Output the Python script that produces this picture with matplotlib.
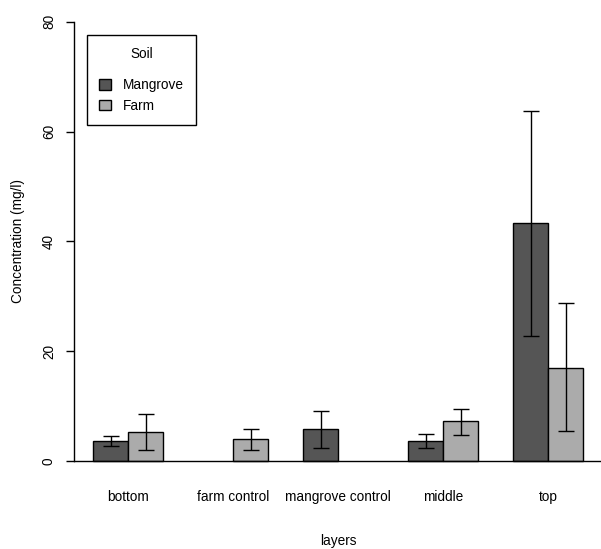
import numpy as np
import matplotlib
matplotlib.use('Agg')
import matplotlib.pyplot as plt
from matplotlib.patches import Patch

layers = ['bottom', 'farm control', 'mangrove control', 'middle', 'top']
soils = ['Mangrove', 'Farm']

# means and error bar ends (lower, upper), NaN = no bar
mangrove = [3.7, np.nan, 5.9, 3.7, 43.3]
farm = [5.2, 4.0, np.nan, 7.2, 17.0]
mangrove_lo = [2.7, np.nan, 2.4, 2.4, 22.7]
mangrove_hi = [4.6, np.nan, 9.2, 5.0, 63.8]
farm_lo = [2.0, 2.0, np.nan, 4.8, 5.4]
farm_hi = [8.6, 5.8, np.nan, 9.4, 28.7]

colors = ['#555555', '#ababab']
yticks = [0, 20, 40, 60, 80]

plt.rcParams['font.family'] = ['Liberation Sans', 'DejaVu Sans']
fs = 9.8

W, H = 601, 549
fig = plt.figure(figsize=(W / 100, H / 100), dpi=100)

# plot region in pixels (R style layout)
left, right = 73.7, 603.0
top, bottom = 4.2, 478.6
ax = fig.add_axes([left / W, 1 - bottom / H, (right - left) / W, (bottom - top) / H])

# R barplot geometry: groups of 2 bars, gap of 1 bar width before each group
groups = np.arange(len(layers))
x_m = 1.5 + 3 * groups
x_f = 2.5 + 3 * groups
x_lab = 2.0 + 3 * groups

series = [
    (mangrove, mangrove_lo, mangrove_hi, x_m, colors[0]),
    (farm, farm_lo, farm_hi, x_f, colors[1]),
]
for vals, lo, hi, xs, col in series:
    vals = np.array(vals)
    lo = np.array(lo)
    hi = np.array(hi)
    ok = ~np.isnan(vals)
    ax.bar(xs[ok], vals[ok], width=1.0, color=col, edgecolor='black', linewidth=1.0, zorder=2)
    ax.errorbar(xs[ok], vals[ok], yerr=[vals[ok] - lo[ok], hi[ok] - vals[ok]],
                fmt='none', ecolor='black', elinewidth=1.0, capsize=6.1, capthick=1.0, zorder=3)

ax.axhline(0, color='black', linewidth=1.0, zorder=4)

ax.set_xlim(0.44, 15.56)
ax.set_ylim(-3.2, 83.2)

for s in ['top', 'right', 'bottom']:
    ax.spines[s].set_visible(False)
ax.spines['left'].set_bounds(0, 80)
ax.spines['left'].set_linewidth(1.0)

ax.set_yticks(yticks)
ax.set_yticklabels([str(v) for v in yticks], rotation=90, va='center', fontsize=fs)
ax.tick_params(axis='y', length=5.8, width=1.0, pad=7)

ax.set_xticks(x_lab)
ax.set_xticklabels(layers, fontsize=fs)
ax.tick_params(axis='x', length=0, pad=8)

ax.set_xlabel('layers', fontsize=fs, labelpad=22)
ax.set_ylabel('Concentration (mg/l)', fontsize=fs, labelpad=12)

handles = [Patch(facecolor=c, edgecolor='black', linewidth=1.0) for c in colors]
leg = fig.legend(handles, soils, title='Soil', loc='upper left',
                 bbox_to_anchor=(87 / W, 1 - 35 / H), borderaxespad=0,
                 fontsize=fs, title_fontsize=fs, fancybox=False,
                 edgecolor='black', framealpha=1, handlelength=0.85, handleheight=0.85,
                 handletextpad=0.9, borderpad=0.9, labelspacing=0.5)
leg.get_frame().set_linewidth(1.0)
leg._legend_box.sep = 12

fig.savefig('out.png', dpi=100)
